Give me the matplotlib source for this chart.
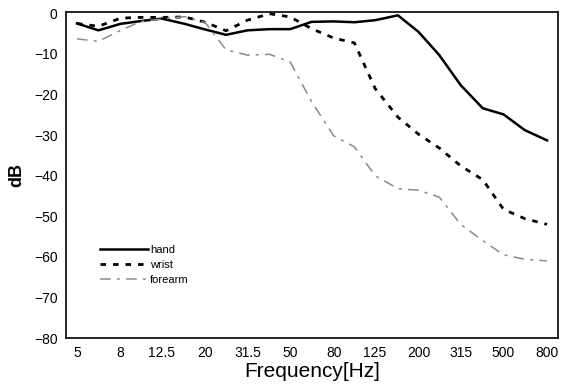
import matplotlib
matplotlib.use('Agg')
import matplotlib.pyplot as plt
import numpy as np

plt.rcParams['font.family'] = ['Liberation Sans', 'DejaVu Sans']

# 1/3 octave centre frequencies
freq = [5, 6.3, 8, 10, 12.5, 16, 20, 25, 31.5, 40, 50, 63, 80, 100,
        125, 160, 200, 250, 315, 400, 500, 630, 800]

# transmissibility (dB)
hand = [-2.5, -4.2, -2.6, -1.9, -1.3, -2.6, -4.0, -5.3, -4.2, -3.9, -3.9, -2.1,
        -2.0, -2.2, -1.7, -0.5, -4.6, -10.3, -17.7, -23.4, -24.9, -28.8, -31.3]
wrist = [-2.5, -3.2, -1.2, -1.0, -1.0, -0.9, -2.2, -4.3, -1.7, -0.1, -0.9, -3.8,
         -6.1, -7.3, -18.5, -25.6, -29.8, -33.2, -37.6, -41.0, -48.3, -50.6, -52.0]
forearm = [-6.3, -6.9, -4.2, -2.0, -1.4, -0.8, -2.3, -9.0, -10.3, -10.1, -12.0, -21.8,
           -30.2, -32.9, -40.0, -43.2, -43.6, -45.3, -52.0, -56.0, -59.5, -60.6, -61.0]

tick_freq = [5, 8, 12.5, 20, 31.5, 50, 80, 125, 200, 315, 500, 800]
tick_labels = ['5', '8', '12.5', '20', '31.5', '50', '80', '125', '200', '315', '500', '800']
y_ticks = [0, -10, -20, -30, -40, -50, -60, -70, -80]

fig = plt.figure(figsize=(5.61, 3.90), dpi=100)
ax = fig.add_axes([0.1176, 0.1333, 0.8771, 0.8357])

ax.plot(freq, hand, color='black', lw=1.8, label='hand')
ax.plot(freq, wrist, color='black', lw=2.0, dashes=(2, 2.5), label='wrist')
ax.plot(freq, forearm, color='#8a8a8a', lw=1.1, dashes=(7, 4, 2, 4), label='forearm')

ax.set_xscale('log')
ax.set_xlim(4.44, 901)
ax.set_ylim(-80, 0.3)
ax.set_xticks(tick_freq)
ax.set_xticklabels(tick_labels)
ax.xaxis.set_minor_locator(matplotlib.ticker.NullLocator())
ax.set_yticks(y_ticks)
ax.set_yticklabels(['0'] + ['\u2212%d' % abs(v) for v in y_ticks[1:]])
ax.tick_params(length=0, labelsize=10, pad=6)

for s in ax.spines.values():
    s.set_linewidth(1.2)

ax.set_xlabel('Frequency[Hz]', fontsize=15, labelpad=1)
ax.set_ylabel('dB', fontsize=13, fontweight='bold', labelpad=6)

ax.legend(loc='upper left', bbox_to_anchor=(0.069, 0.285), frameon=False,
          fontsize=8, handlelength=4.3, handletextpad=0.2, labelspacing=0.45,
          borderpad=0, borderaxespad=0)

fig.savefig('out.png', dpi=100)
